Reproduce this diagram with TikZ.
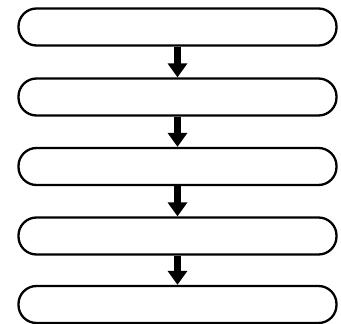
\documentclass[tikz,border=0pt]{standalone}
\usetikzlibrary{arrows.meta}
\tikzset{
  stepbox/.style={draw, line width=2.3pt, rounded corners=18pt, minimum width=318pt, minimum height=37pt, inner sep=0pt},
  flow/.style={line width=7.5pt, -{Triangle[width=19pt,length=14pt]}}
}
\begin{document}
\begin{tikzpicture}[x=1pt, y=1pt]
  \useasboundingbox (0,0) rectangle (341,-324);
  \node[stepbox] (box1) at (177.5,-27) {};
  \node[stepbox] (box2) at (177.5,-97) {};
  \node[stepbox] (box3) at (177.5,-166.5) {};
  \node[stepbox] (box4) at (177.5,-236) {};
  \node[stepbox] (box5) at (177.5,-304.5) {};
  \draw[flow] (box1.south) -- (box2.north);
  \draw[flow] (box2.south) -- (box3.north);
  \draw[flow] (box3.south) -- (box4.north);
  \draw[flow] (box4.south) -- (box5.north);
\end{tikzpicture}
\end{document}
